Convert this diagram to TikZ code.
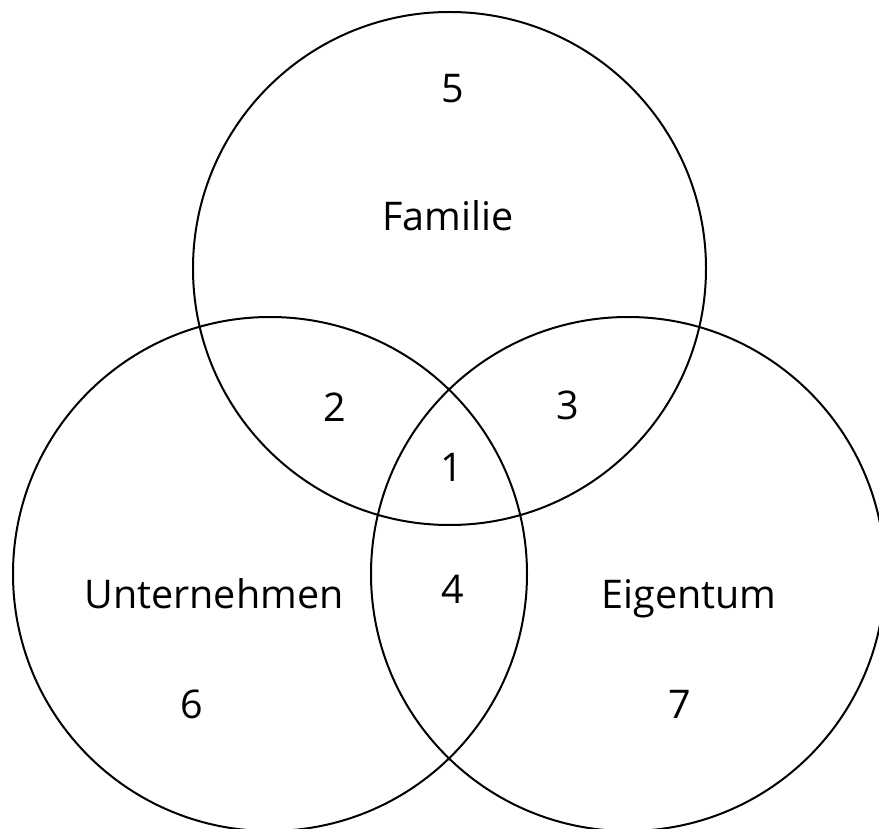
\documentclass[tikz,border=0pt]{standalone}
\usepackage{fontspec}
\setmainfont{Open Sans}
\begin{document}
\begin{tikzpicture}[x=1pt,y=-1pt,
  ring/.style={draw=black,line width=2pt},
  lbl/.style={anchor=base,inner sep=0pt,font=\fontsize{39.5}{44}\selectfont}]
\useasboundingbox (0,0) rectangle (879,829);
\clip (0,0) rectangle (879,829);
\draw[ring] (449.5,268.5) circle[radius=256.5];
\draw[ring] (270,574) circle[radius=257];
\draw[ring] (628,574) circle[radius=257];
\node[lbl] (familie) at (448,231) {Familie};
\node[lbl] (unternehmen) at (214,608) {Unternehmen};
\node[lbl] (eigentum) at (689,608) {Eigentum};
\node[lbl] (n5) at (453,103) {5};
\node[lbl] (n2) at (335,421) {2};
\node[lbl] (n3) at (568,419) {3};
\node[lbl] (n1) at (452,481) {1};
\node[lbl] (n4) at (453,603) {4};
\node[lbl] (n6) at (192,718) {6};
\node[lbl] (n7) at (680,718) {7};
\end{tikzpicture}
\end{document}
